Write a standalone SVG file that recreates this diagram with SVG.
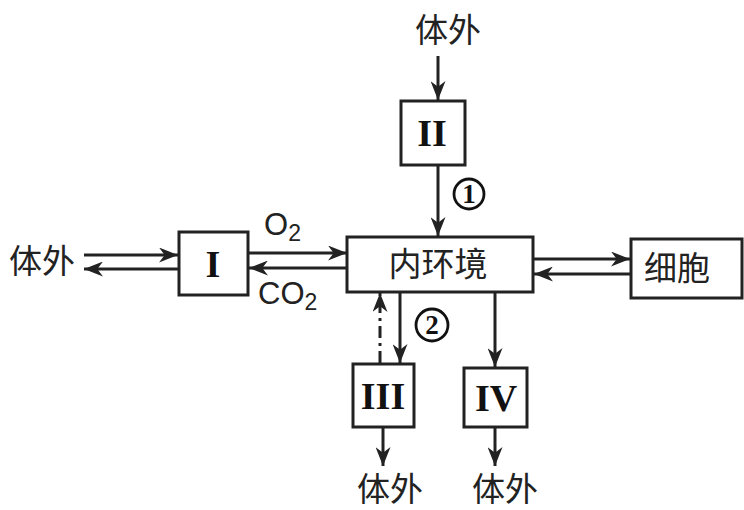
<svg xmlns="http://www.w3.org/2000/svg" width="744" height="510" viewBox="0 0 744 510">
<style>
.box{fill:#fff;stroke:#222;stroke-width:3}
.ln{stroke:#222;stroke-width:3;fill:none}
.cn{font-family:"Noto Sans CJK SC","Noto Sans",sans-serif;font-size:33px;fill:#222}
.rn{font-family:"Liberation Serif",serif;font-weight:bold;font-size:38px;fill:#111}
.lb{font-family:"Liberation Sans",sans-serif;font-size:31px;fill:#222}
.cr{font-family:"Liberation Serif",serif;font-weight:bold;font-size:27px;fill:#111}
.cc{fill:none;stroke:#111;stroke-width:2.8}
</style>
<defs>
<marker id="a" viewBox="0 0 10 10" refX="10" refY="5" markerWidth="19" markerHeight="15" markerUnits="userSpaceOnUse" orient="auto" preserveAspectRatio="none">
<path d="M0,0 L10,5 L0,10 L3,5 z" fill="#222"/>
</marker>
</defs>
<g id="connectors">
<line class="ln" x1="438" y1="56" x2="438" y2="100" marker-end="url(#a)"/>
<line class="ln" x1="438" y1="165" x2="438" y2="236" marker-end="url(#a)"/>
<line class="ln" x1="84" y1="255" x2="178" y2="255" marker-end="url(#a)"/>
<line class="ln" x1="178" y1="269" x2="84" y2="269" marker-end="url(#a)"/>
<line class="ln" x1="248" y1="253" x2="347" y2="253" marker-end="url(#a)"/>
<line class="ln" x1="347" y1="268" x2="249" y2="268" marker-end="url(#a)"/>
<line class="ln" x1="533" y1="259" x2="630" y2="259" marker-end="url(#a)"/>
<line class="ln" x1="630" y1="274" x2="534" y2="274" marker-end="url(#a)"/>
<line class="ln" x1="400" y1="293" x2="400" y2="363" marker-end="url(#a)"/>
<line class="ln" x1="380" y1="363" x2="380" y2="293" stroke-dasharray="12,5,3,5" marker-end="url(#a)"/>
<line class="ln" x1="495" y1="293" x2="495" y2="367" marker-end="url(#a)"/>
<line class="ln" x1="383" y1="428" x2="383" y2="466" marker-end="url(#a)"/>
<line class="ln" x1="495" y1="428" x2="495" y2="466" marker-end="url(#a)"/>
</g>
<g id="outside-top"><text class="cn" x="448" y="42" text-anchor="middle">体外</text></g>
<g id="II"><rect class="box" x="401" y="101" width="64" height="64"/><text class="rn" x="432" y="146" text-anchor="middle">II</text></g>
<g id="label1"><circle class="cc" cx="469" cy="194" r="15"/><text class="cr" x="469" y="203" text-anchor="middle">1</text></g>
<g id="outside-left"><text class="cn" x="42" y="273" text-anchor="middle">体外</text></g>
<g id="I"><rect class="box" x="179" y="232" width="69" height="63"/><text class="rn" x="213" y="277" text-anchor="middle">I</text></g>
<g id="O2"><text class="lb" x="264" y="235">O<tspan font-size="23" dy="6">2</tspan></text></g>
<g id="CO2"><text class="lb" x="258" y="304">CO<tspan font-size="23" dy="6">2</tspan></text></g>
<g id="neihuanjing"><rect class="box" x="347" y="237" width="186" height="55"/><text class="cn" x="438" y="276" text-anchor="middle">内环境</text></g>
<g id="xibao"><rect class="box" x="631" y="239" width="111" height="59"/><text class="cn" x="677" y="280" text-anchor="middle">细胞</text></g>
<g id="label2"><circle class="cc" cx="432" cy="325" r="16"/><text class="cr" x="432" y="334" text-anchor="middle">2</text></g>
<g id="III"><rect class="box" x="353" y="364" width="61" height="63"/><text class="rn" x="383" y="409" text-anchor="middle">III</text></g>
<g id="IV"><rect class="box" x="464" y="368" width="63" height="59"/><text class="rn" x="496" y="411" text-anchor="middle">IV</text></g>
<g id="outside-III"><text class="cn" x="390" y="501" text-anchor="middle">体外</text></g>
<g id="outside-IV"><text class="cn" x="505" y="501" text-anchor="middle">体外</text></g>
</svg>
